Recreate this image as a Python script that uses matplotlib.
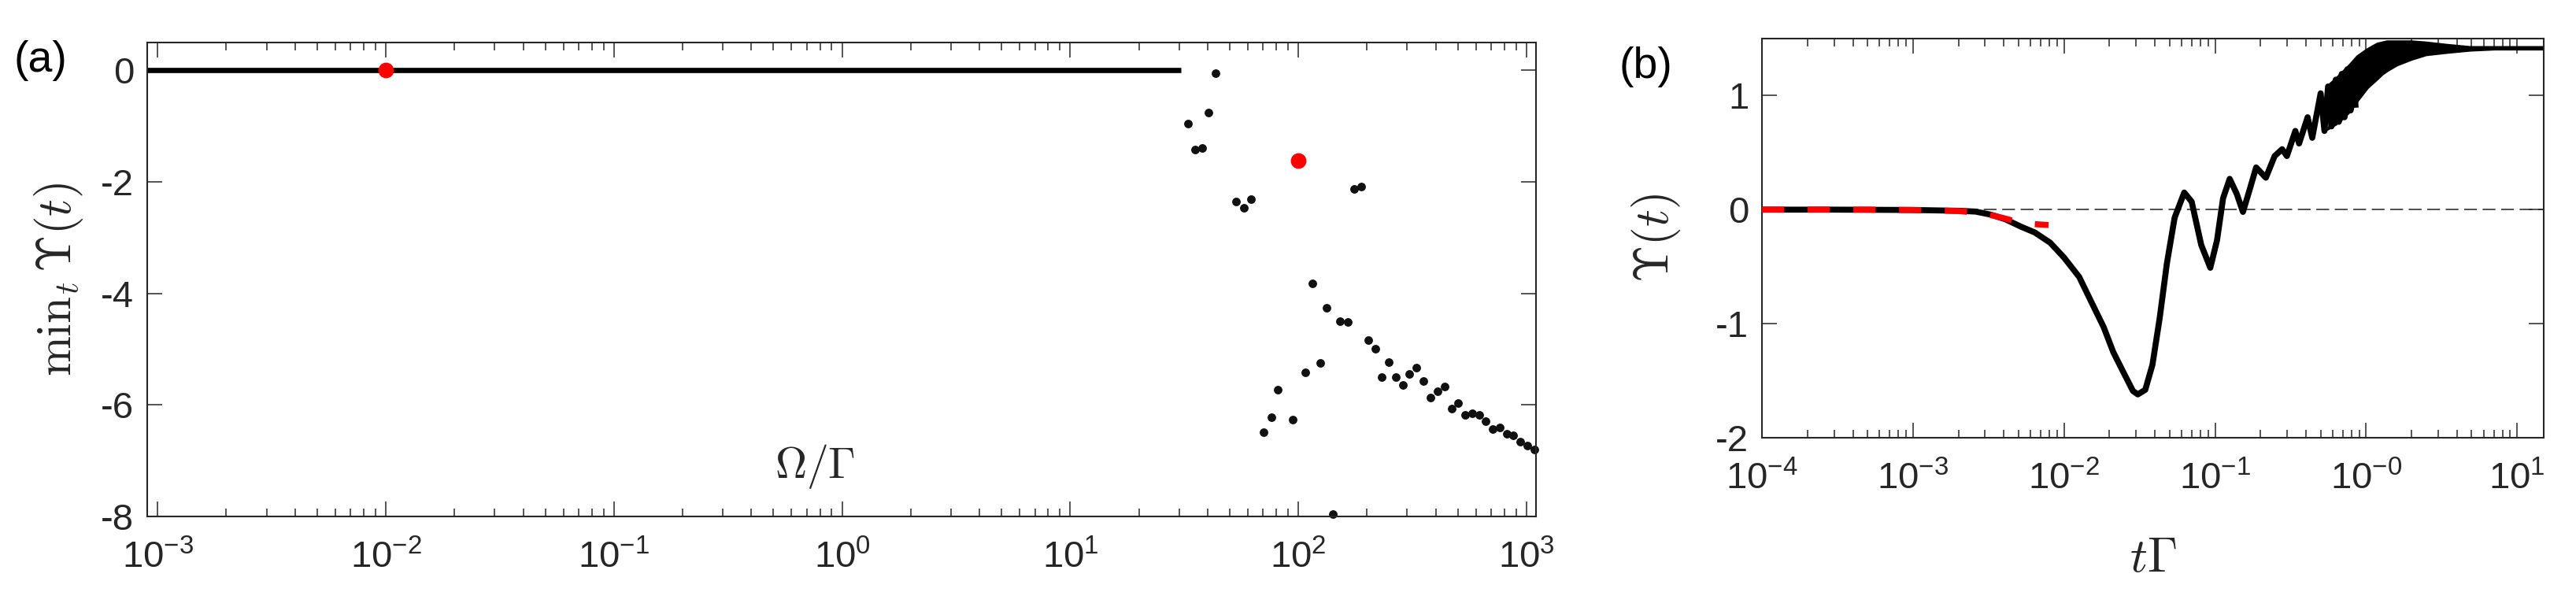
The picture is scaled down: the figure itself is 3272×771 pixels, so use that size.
import matplotlib
matplotlib.use("Agg")
import matplotlib.pyplot as plt
import matplotlib as mpl
from matplotlib.ticker import FixedLocator, FixedFormatter, LogLocator, NullFormatter

mpl.rcParams.update({
    "font.family": ["Liberation Sans", "DejaVu Sans"],
    "mathtext.fontset": "cm",
    "axes.unicode_minus": False,
})

AX_C = "#262626"

# ---- panel (a): min_t Upsilon(t) vs Omega/Gamma ----
line_omega = [9e-4, 30.6]
line_min = [0.0, 0.0]

omega_pts = [32.7, 35.3, 37.8, 40.5, 43.3, 53.3, 57.6, 61.8, 70.5, 76.3,
             81.5, 94.3, 107.6, 115, 124.5, 133, 142, 152, 165, 175.8,
             188, 203, 217, 232, 248, 268, 287, 307, 329, 354,
             379, 406, 438, 469, 502, 538, 580, 619, 662, 711,
             762, 817, 875, 940, 1006, 1081]
min_pts = [-0.95, -1.42, -1.39, -0.76, -0.05, -2.35, -2.47, -2.31, -6.49, -6.22,
           -5.72, -6.26, -5.42, -3.82, -5.24, -4.26, -7.96, -4.50, -4.51, -2.13,
           -2.09, -4.84, -4.99, -5.50, -5.23, -5.50, -5.64, -5.45, -5.33, -5.57,
           -5.87, -5.76, -5.67, -6.06, -5.97, -6.18, -6.15, -6.18, -6.29, -6.43,
           -6.41, -6.52, -6.54, -6.66, -6.73, -6.80]

omega_red = [1e-2, 1e2]
min_red = [0.0, -1.62]

a_xticks = [1e-3, 1e-2, 1e-1, 1e0, 1e1, 1e2, 1e3]
a_xlabels = ["10^{-3}", "10^{-2}", "10^{-1}", "10^{0}", "10^{1}", "10^{2}", "10^{3}"]
a_yticks = [-8, -6, -4, -2, 0]
a_ylabels = ["-8", "-6", "-4", "-2", "0"]

# ---- panel (b): Upsilon(t) vs t*Gamma ----
t_curve = [1e-4, 3e-4, 1e-3, 2e-3, 2.6e-3, 3.3e-3, 4.1e-3, 5.2e-3, 6.4e-3, 8.1e-3,
           1.0e-2, 1.26e-2, 1.57e-2, 1.83e-2, 2.12e-2, 2.46e-2, 2.86e-2, 3.08e-2, 3.45e-2, 3.85e-2,
           4.3e-2, 4.8e-2, 5.4e-2, 6.25e-2, 7.0e-2, 8.1e-2, 9.3e-2, 0.103, 0.113, 0.125,
           0.139, 0.153, 0.169, 0.187, 0.217, 0.248, 0.278, 0.299, 0.34, 0.36,
           0.41, 0.44, 0.50, 0.53, 0.56, 0.59, 0.63, 0.66, 0.69, 0.72,
           0.75, 0.79, 0.82, 0.85]
y_curve = [0.0, 0.0, -0.003, -0.01, -0.017, -0.045, -0.085, -0.15, -0.2, -0.29,
           -0.42, -0.59, -0.85, -1.03, -1.25, -1.42, -1.59, -1.62, -1.58, -1.36,
           -0.95, -0.47, -0.07, 0.15, 0.07, -0.31, -0.51, -0.27, 0.10, 0.27,
           0.14, -0.02, 0.17, 0.37, 0.28, 0.47, 0.53, 0.47, 0.69, 0.58,
           0.81, 0.63, 1.02, 0.69, 1.08, 0.73, 1.14, 0.77, 1.19, 0.81,
           1.23, 0.87, 1.27, 0.92]

# fast oscillation band (upper / lower envelope)
t_band = [0.56, 0.63, 0.70, 0.79, 0.88, 1.02, 1.19, 1.28, 1.38,
          1.6, 2.0, 2.5, 3.4, 4.9, 7.1, 10.3, 15]
band_hi = [1.08, 1.14, 1.20, 1.27, 1.34, 1.40, 1.45, 1.46, 1.47,
           1.47, 1.47, 1.46, 1.44, 1.42, 1.42, 1.42, 1.42]
band_lo = [0.71, 0.75, 0.80, 0.87, 0.96, 1.07, 1.15, 1.19, 1.22,
           1.27, 1.32, 1.36, 1.38, 1.40, 1.41, 1.41, 1.41]

t_red = [1e-4, 5e-4, 1e-3, 2e-3, 3e-3, 4e-3, 5e-3, 6e-3, 7.9e-3]
y_red = [0.0, 0.0, -0.003, -0.012, -0.035, -0.075, -0.11, -0.125, -0.135]

b_xticks = [1e-4, 1e-3, 1e-2, 1e-1, 1e0, 1e1]
b_xlabels = ["10^{-4}", "10^{-3}", "10^{-2}", "10^{-1}", "10^{-0}", "10^{1}"]
b_yticks = [-2, -1, 0, 1]
b_ylabels = ["-2", "-1", "0", "1"]

TICK_FS = 34
LABEL_FS = 44


def style_axes(ax, xticks, xlabels, yticks, ylabels):
    ax.set_xscale("log")
    ax.xaxis.set_major_locator(FixedLocator(xticks))
    ax.xaxis.set_major_formatter(FixedFormatter([r"$\mathregular{%s}$" % s for s in xlabels]))
    ax.xaxis.set_minor_locator(LogLocator(base=10, subs=range(2, 10), numticks=50))
    ax.xaxis.set_minor_formatter(NullFormatter())
    ax.yaxis.set_major_locator(FixedLocator(yticks))
    ax.yaxis.set_major_formatter(FixedFormatter(ylabels))
    ax.tick_params(which="both", direction="in", top=True, right=True,
                   color=AX_C, labelcolor=AX_C, labelsize=TICK_FS)
    ax.tick_params(which="major", length=13.5, width=1.1)
    ax.tick_params(which="minor", length=7, width=1.1)
    ax.tick_params(axis="x", which="major", pad=22)
    ax.tick_params(axis="y", which="major", pad=12)
    for sp in ax.spines.values():
        sp.set_color(AX_C)
        sp.set_linewidth(1.5)


fig = plt.figure(figsize=(32.73, 7.71), dpi=100)

# (a)
ax1 = fig.add_axes([0.05713, 0.14916, 0.53896, 0.78080])
ax1.plot(line_omega, line_min, color="black", lw=4.8, solid_capstyle="butt")
ax1.plot(omega_pts, min_pts, "o", color="#111111", ms=6.8, clip_on=False)
ax1.plot(omega_red, min_red, "o", color="red", ms=13.3, clip_on=False, zorder=5)
style_axes(ax1, a_xticks, a_xlabels, a_yticks, a_ylabels)
ax1.set_xlim(9e-4, 1.1e3)
ax1.set_ylim(-8, 0.5)
ax1.set_ylabel(r"$\mathrm{min}_t\,\Upsilon(t)$", fontsize=LABEL_FS, color=AX_C, va="center")
ax1.yaxis.set_label_coords(-0.0635, 0.5)
ax1.set_xlabel(r"$\Omega/\Gamma$", fontsize=40, color=AX_C, va="center")
ax1.xaxis.set_label_coords(0.481, 0.106)

# (b)
ax2 = fig.add_axes([0.68378, 0.27886, 0.30339, 0.65759])
ax2.axhline(0, color="#404040", lw=1.3, dashes=(9, 4), zorder=1)
ax2.fill_between(t_band, band_lo, band_hi, color="black", lw=0, zorder=2)
ax2.plot(t_band, band_hi, color="black", lw=3, zorder=2)
ax2.plot(t_band, band_lo, color="black", lw=3, zorder=2)
ax2.plot(t_curve, y_curve, color="black", lw=5.5, zorder=3)
ax2.plot(t_red, y_red, color="red", lw=5.5, dashes=(3.7, 3.9), zorder=4)
style_axes(ax2, b_xticks, b_xlabels, b_yticks, b_ylabels)
ax2.set_xlim(1e-4, 15)
ax2.set_ylim(-2, 1.5)
ax2.set_ylabel(r"$\Upsilon(t)$", fontsize=LABEL_FS, color=AX_C, va="center")
ax2.yaxis.set_label_coords(-0.135, 0.5)
ax2.set_xlabel(r"$t\Gamma$", fontsize=LABEL_FS, color=AX_C, va="center")
ax2.xaxis.set_label_coords(0.5, -0.304)

fig.text(0.0156, 0.90, "(a)", fontsize=40, color="black", ha="center", va="center")
fig.text(0.6386, 0.89, "(b)", fontsize=40, color="black", ha="center", va="center")

fig.savefig("out.png", dpi=100)
